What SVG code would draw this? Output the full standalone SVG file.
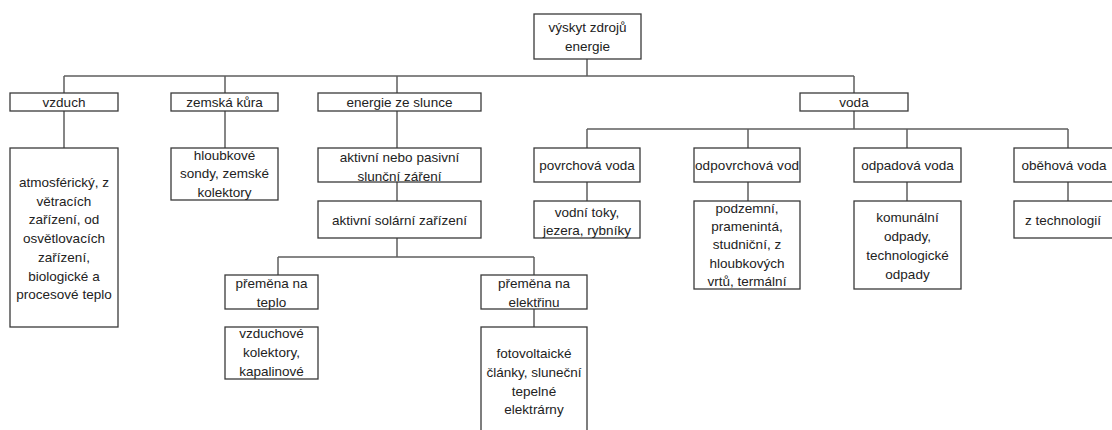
<svg xmlns="http://www.w3.org/2000/svg" width="1112" height="430" viewBox="0 0 1112 430">
<style>
.b{fill:#fff;stroke:#3a3a3a;stroke-width:1.3}
.t{font-family:"Liberation Sans",Arial,sans-serif;font-size:13.5px;fill:#222;text-anchor:middle}
.c{fill:none;stroke:#5f5f5f;stroke-width:1.5}
</style>
<defs>
<clipPath id="clipOdp"><rect x="694" y="148" width="106" height="34"/></clipPath>
</defs>
<rect width="1112" height="430" fill="#fff"/>
<g id="connectors">
<path class="c" d="M587 59V76M64 76H854M64 76V93M225 76V93M397 76V93M854 76V93"/>
<path class="c" d="M64 111V148M225 111V148M397 111V148M397 182V201M397 238V257M278 257H534M278 257V275M534 257V275M534 309V327"/>
<path class="c" d="M854 111V129M587 129H1068M587 129V148M748 129V148M907 129V148M1068 129V148M587 182V201M748 182V201M907 182V201M1068 182V201"/>
</g>
<g id="root"><rect class="b" x="534" y="14" width="107" height="45"/><text class="t" x="587.5" y="32">výskyt zdrojů</text><text class="t" x="587.5" y="51">energie</text></g>
<g id="vzduch"><rect class="b" x="10" y="93" width="108" height="18"/><text class="t" x="64" y="107">vzduch</text></g>
<g id="zemska"><rect class="b" x="171" y="93" width="107" height="18"/><text class="t" x="224.5" y="107">zemská kůra</text></g>
<g id="slunce"><rect class="b" x="318" y="93" width="163" height="18"/><text class="t" x="399.5" y="107">energie ze slunce</text></g>
<g id="voda"><rect class="b" x="800" y="93" width="108" height="18"/><text class="t" x="854" y="107">voda</text></g>
<g id="atmosfericky"><rect class="b" x="10" y="148" width="108" height="179"/>
<text class="t" x="64" y="187">atmosférický, z</text><text class="t" x="64" y="206">větracích</text><text class="t" x="64" y="224">zařízení, od</text><text class="t" x="64" y="243">osvětlovacích</text><text class="t" x="64" y="262">zařízení,</text><text class="t" x="64" y="281">biologické a</text><text class="t" x="64" y="299">procesové teplo</text></g>
<g id="hloubkove"><rect class="b" x="171" y="148" width="107" height="52"/><text class="t" x="224.5" y="160">hloubkové</text><text class="t" x="224.5" y="178">sondy, zemské</text><text class="t" x="224.5" y="197">kolektory</text></g>
<g id="aktivniPasivni"><rect class="b" x="318" y="148" width="163" height="34"/><text class="t" x="399.5" y="162">aktivní nebo pasivní</text><text class="t" x="399.5" y="181">slunční záření</text></g>
<g id="aktivniSolarni"><rect class="b" x="318" y="201" width="163" height="37"/><text class="t" x="399.5" y="225">aktivní solární zařízení</text></g>
<g id="premenaTeplo"><rect class="b" x="225" y="275" width="93" height="34"/><text class="t" x="271.5" y="288">přeměna na</text><text class="t" x="271.5" y="307">teplo</text></g>
<g id="premenaElektrinu"><rect class="b" x="481" y="275" width="106" height="34"/><text class="t" x="534" y="288">přeměna na</text><text class="t" x="534" y="307">elektřinu</text></g>
<g id="vzduchove"><rect class="b" x="225" y="327" width="93" height="52"/><text class="t" x="271.5" y="338">vzduchové</text><text class="t" x="271.5" y="357">kolektory,</text><text class="t" x="271.5" y="376">kapalinové</text></g>
<g id="fotovoltaicke"><rect class="b" x="481" y="327" width="106" height="120"/><text class="t" x="534" y="358">fotovoltaické</text><text class="t" x="534" y="377">články, sluneční</text><text class="t" x="534" y="396">tepelné</text><text class="t" x="534" y="414">elektrárny</text></g>
<g id="povrchova"><rect class="b" x="534" y="148" width="106" height="34"/><text class="t" x="587" y="170">povrchová voda</text></g>
<g id="odpovrchova"><rect class="b" x="694" y="148" width="106" height="34"/><text class="t" x="695" y="170" style="text-anchor:start" textLength="104" lengthAdjust="spacing" clip-path="url(#clipOdp)">odpovrchová vod</text></g>
<g id="odpadova"><rect class="b" x="854" y="148" width="107" height="34"/><text class="t" x="907.5" y="170">odpadová voda</text></g>
<g id="obehova"><rect class="b" x="1014" y="148" width="108" height="34"/><text class="t" x="1064" y="170">oběhová voda</text></g>
<g id="vodniToky"><rect class="b" x="534" y="201" width="106" height="37"/><text class="t" x="587" y="217">vodní toky,</text><text class="t" x="587" y="235">jezera, rybníky</text></g>
<g id="podzemni"><rect class="b" x="694" y="201" width="106" height="88"/><text class="t" x="747" y="213">podzemní,</text><text class="t" x="747" y="231">pramenintá,</text><text class="t" x="747" y="249">studniční, z</text><text class="t" x="747" y="268">hloubkových</text><text class="t" x="747" y="286">vrtů, termální</text></g>
<g id="komunalni"><rect class="b" x="854" y="201" width="107" height="88"/><text class="t" x="907.5" y="222">komunální</text><text class="t" x="907.5" y="241">odpady,</text><text class="t" x="907.5" y="260">technologické</text><text class="t" x="907.5" y="279">odpady</text></g>
<g id="zTechnologii"><rect class="b" x="1014" y="201" width="108" height="37"/><text class="t" x="1063" y="225">z technologií</text></g>
</svg>
